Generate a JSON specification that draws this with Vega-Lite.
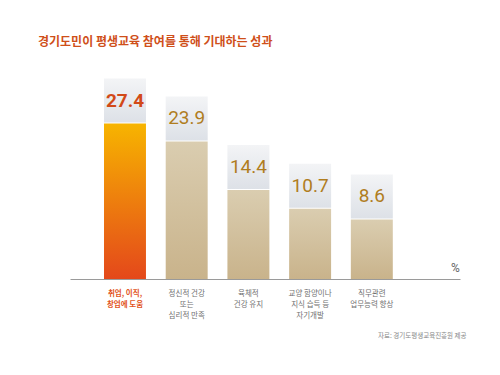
{
  "$schema": "https://vega.github.io/schema/vega-lite/v6.json",
  "width": 390,
  "height": 210,
  "autosize": {"type": "none"},
  "padding": {"left": 70, "top": 69, "right": 40, "bottom": 96},
  "background": "white",
  "config": {"view": {"stroke": null}},
  "title": {
    "text": "경기도민이 평생교육 참여를 통해 기대하는 성과",
    "anchor": "start",
    "frame": "group",
    "dx": -32,
    "offset": 20,
    "font": "Noto Sans CJK KR",
    "fontSize": 12,
    "fontWeight": "bold",
    "color": "#cf4f1a"
  },
  "data": {
    "values": [
      {"label": "취업, 이직,\n창업에 도움", "pct": 27.4, "main": true},
      {"label": "정신적 건강\n또는\n심리적 만족", "pct": 23.9, "main": false},
      {"label": "육체적\n건강 유지", "pct": 14.4, "main": false},
      {"label": "교양 함양이나\n지식 습득 등\n자기개발", "pct": 10.7, "main": false},
      {"label": "직무관련\n업무능력 향상", "pct": 8.6, "main": false}
    ]
  },
  "encoding": {
    "x": {
      "field": "label",
      "type": "nominal",
      "sort": null,
      "scale": {"paddingInner": 0.32, "paddingOuter": 0.82, "align": 0.336},
      "axis": {
        "title": "자료: 경기도평생교육진흥원 제공",
        "titleFont": "Noto Sans CJK KR",
        "titleFontSize": 6.5,
        "titleFontWeight": "normal",
        "titleColor": "#888888",
        "titleAlign": "right",
        "titleAnchor": null,
        "titleX": 396,
        "titleY": 56,
        "titleBaseline": "middle",
        "labelExpr": "split(datum.value, '\\n')",
        "labelAngle": 0,
        "labelFont": "Noto Sans CJK KR",
        "labelFontSize": 7.5,
        "labelLineHeight": 11,
        "labelPadding": 10,
        "ticks": false,
        "domainColor": "#9a9a9a",
        "domainWidth": 1,
        "labelColor": {"condition": {"test": "indexof(datum.value, '취업') == 0", "value": "#e2531c"}, "value": "#707070"},
        "labelFontWeight": {"condition": {"test": "indexof(datum.value, '취업') == 0", "value": "bold"}, "value": "normal"}
      }
    },
    "y": {
      "field": "pct",
      "type": "quantitative",
      "scale": {"domain": [-3.07, 38.1], "nice": false, "zero": false},
      "axis": {
        "orient": "right",
        "title": "%",
        "labels": false,
        "ticks": false,
        "domain": false,
        "grid": false,
        "titleAngle": 0,
        "titleX": -5,
        "titleY": 198,
        "titleAlign": "center",
        "titleBaseline": "middle",
        "titleFont": "Roboto",
        "titleFontSize": 12,
        "titleFontWeight": "normal",
        "titleColor": "#666666"
      }
    }
  },
  "layer": [
    {
      "mark": {"type": "bar"},
      "encoding": {
        "y2": {"datum": -3.07},
        "color": {
          "condition": {
            "test": "datum.main",
            "value": {"gradient": "linear", "x1": 0, "y1": 0, "x2": 0, "y2": 1, "stops": [{"offset": 0, "color": "#f7b400"}, {"offset": 1, "color": "#e4481b"}]}
          },
          "value": {"gradient": "linear", "x1": 0, "y1": 0, "x2": 0, "y2": 1, "stops": [{"offset": 0, "color": "#dacdb0"}, {"offset": 1, "color": "#c9b38b"}]}
        }
      }
    },
    {
      "mark": {
        "type": "tick",
        "orient": "horizontal",
        "thickness": 44,
        "size": 42,
        "yOffset": -23,
        "opacity": 1,
        "color": {"gradient": "linear", "x1": 0, "y1": 0, "x2": 0, "y2": 1, "stops": [{"offset": 0, "color": "#f3f4f6"}, {"offset": 1, "color": "#dde1e7"}]}
      },
      "encoding": {}
    },
    {
      "mark": {
        "type": "text",
        "dy": -23,
        "baseline": "middle",
        "align": "center",
        "font": "Roboto",
        "fontSize": 19,
        "fontWeight": {"expr": "datum.main ? 'bold' : 'normal'"}
      },
      "encoding": {
        "text": {"field": "pct", "type": "quantitative", "format": ".1f"},
        "color": {"condition": {"test": "datum.main", "value": "#d24a18"}, "value": "#b07d1e"}
      }
    }
  ]
}
